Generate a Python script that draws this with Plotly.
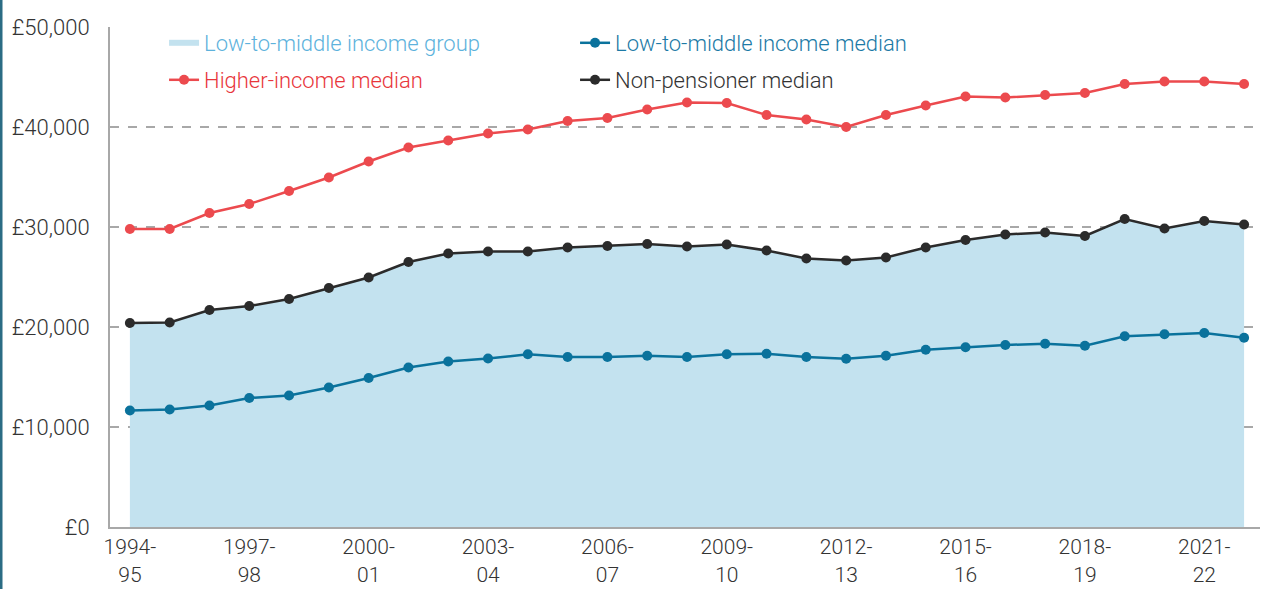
import plotly.graph_objects as go

# Financial years, 1994-95 to 2022-23
years = [f"{y}-{str(y + 1)[-2:]}" for y in range(1994, 2023)]

# Median household income, £ per year
higher_income_median = [
    29800, 29800, 31400, 32300, 33600, 34950, 36550, 37950, 38650, 39350,
    39750, 40600, 40900, 41750, 42450, 42400, 41200, 40750, 40000, 41200,
    42150, 43050, 42950, 43200, 43400, 44300, 44550, 44550, 44300,
]
non_pensioner_median = [
    20400, 20450, 21700, 22100, 22800, 23900, 24950, 26500, 27350, 27550,
    27550, 27950, 28100, 28300, 28050, 28250, 27650, 26850, 26650, 26950,
    27950, 28700, 29250, 29450, 29100, 30800, 29850, 30600, 30250,
]
low_middle_median = [
    11650, 11750, 12150, 12900, 13150, 13950, 14900, 15950, 16550, 16850,
    17270, 17000, 17000, 17130, 17000, 17270, 17330, 17000, 16830, 17130,
    17730, 17970, 18200, 18330, 18130, 19070, 19270, 19400, 18930,
]

tick_years = years[::3]
tick_text = [f"{y[:5]}<br>{y[5:]}" for y in tick_years]
y_ticks = [0, 10000, 20000, 30000, 40000, 50000]
y_text = [f"£{v:,}" for v in y_ticks]

RED = "#ec4a4e"
BLUE = "#0a729c"
BLACK = "#2b2b2b"
FILL = "#c3e2ef"
GRID = "#a8a8a8"
FONT = "Roboto, 'Open Sans', sans-serif"

fig = go.Figure()

# Shaded band: low-to-middle income group, up to the non-pensioner median
fig.add_trace(go.Scatter(
    x=years, y=non_pensioner_median, mode="none", fill="tozeroy",
    fillcolor=FILL, legend="legend",
    name="<span style='color:#5db2dc'>Low-to-middle income group</span>",
))
fig.add_trace(go.Scatter(
    x=years, y=low_middle_median, mode="lines+markers", legend="legend",
    line=dict(color=BLUE, width=2.5), marker=dict(color=BLUE, size=10),
    name="<span style='color:#1c7aa6'>Low-to-middle income median</span>",
))
fig.add_trace(go.Scatter(
    x=years, y=non_pensioner_median, mode="lines+markers", legend="legend2",
    line=dict(color=BLACK, width=2.5), marker=dict(color=BLACK, size=10),
    name="<span style='color:#333333'>Non-pensioner median</span>",
))
fig.add_trace(go.Scatter(
    x=years, y=higher_income_median, mode="lines+markers", legend="legend2",
    line=dict(color=RED, width=2.5), marker=dict(color=RED, size=10),
    name="<span style='color:#e8363b'>Higher-income median</span>",
))

legend_common = dict(
    orientation="h", xanchor="left", yanchor="middle",
    font=dict(family=FONT, size=22, weight=300), bgcolor="rgba(0,0,0,0)",
    entrywidth=366, entrywidthmode="pixels",
    itemclick=False, itemdoubleclick=False,
)

fig.update_layout(
    width=1261, height=589,
    margin=dict(l=110, r=1, t=27, b=62),
    paper_bgcolor="white", plot_bgcolor="white",
    font=dict(family=FONT, size=22, color="#333333", weight=300),
    showlegend=True,
    legend=dict(x=0.047, y=0.968, traceorder="normal", **legend_common),
    legend2=dict(x=0.047, y=0.894, traceorder="reversed", **legend_common),
    hovermode=False,
    xaxis=dict(
        type="category", categoryorder="array", categoryarray=years,
        range=[-0.5, 28.4], tickmode="array", tickvals=tick_years,
        ticktext=tick_text, showgrid=False, zeroline=False,
        showline=True, linecolor=GRID, linewidth=2, automargin=False,
        ticks="", ticklabelstandoff=0, tickangle=0,
        tickfont=dict(size=21),
    ),
    yaxis=dict(
        range=[0, 50000], tickmode="array", tickvals=y_ticks, ticktext=y_text,
        showgrid=True, gridcolor=GRID, griddash="dash", gridwidth=2,
        zeroline=False, showline=True, linecolor=GRID, linewidth=2,
        ticks="", ticklabelstandoff=14, automargin=False,
    ),
    shapes=[dict(
        type="rect", xref="paper", yref="paper",
        x0=-110 / 1150, x1=-107.5 / 1150, y0=-62 / 500, y1=1 + 27 / 500,
        fillcolor="#2b6c84", line=dict(width=0), layer="above",
    )],
)

fig.write_html("out.html")
